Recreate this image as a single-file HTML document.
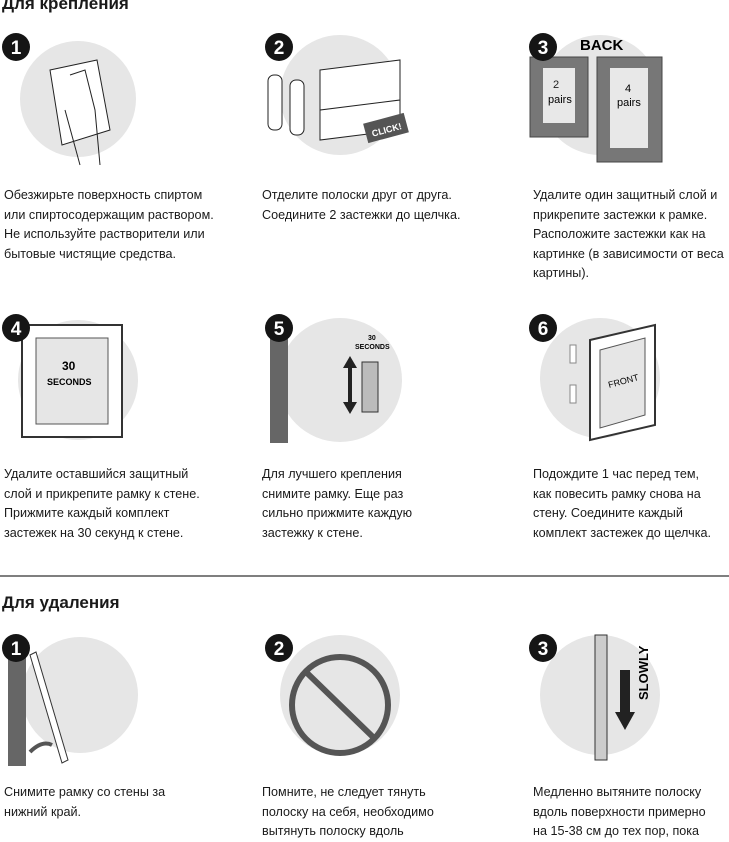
<!DOCTYPE html>
<html><head><meta charset="utf-8"><style>
body{margin:0;width:729px;height:840px;background:#fff;position:relative;overflow:hidden;font-family:"Liberation Sans","Noto Sans CJK SC",sans-serif;color:#1a1a1a}
.t{position:absolute;font-size:12.6px;line-height:19.6px;white-space:nowrap}
.h{position:absolute;font-size:17px;font-weight:bold;left:2px}
svg{position:absolute;left:0;top:0}
</style></head><body>
<svg width="729" height="840" viewBox="0 0 729 840">
<g fill="#e6e6e6">
<circle cx="78" cy="99" r="58"/><circle cx="340" cy="95" r="60"/><circle cx="600" cy="95" r="60"/>
<circle cx="78" cy="380" r="60"/><circle cx="340" cy="380" r="62"/><circle cx="600" cy="378" r="60"/>
<circle cx="80" cy="695" r="58"/><circle cx="340" cy="695" r="60"/><circle cx="600" cy="695" r="60"/>
</g>
<!-- row1 illustrations -->
<path d="M50 70 L97 60 L110 130 L62 145 Z" fill="#fff" stroke="#222"/>
<path d="M70 75 L85 70 L95 110 L100 165 M65 110 L80 165" fill="none" stroke="#222"/>
<g stroke="#222" fill="#fff"><rect x="268" y="75" width="14" height="55" rx="6"/><rect x="290" y="80" width="14" height="55" rx="6"/>
<path d="M320 70 L400 60 L400 100 L320 110 Z M320 110 L400 100 L400 130 L320 140 Z"/></g>
<rect x="365" y="118" width="42" height="20" fill="#555" transform="rotate(-15 386 128)"/>
<text x="371" y="133" font-size="9" font-weight="bold" fill="#fff" transform="rotate(-15 386 128)">CLICK!</text>
<g fill="#777" stroke="#444"><rect x="530" y="57" width="58" height="80"/><rect x="597" y="57" width="65" height="105"/></g>
<g fill="#e8e8e8"><rect x="543" y="68" width="32" height="55"/><rect x="610" y="68" width="38" height="80"/></g>
<text x="580" y="50" font-size="15" font-weight="bold">BACK</text>
<text x="553" y="88" font-size="11" fill="#222">2</text><text x="548" y="103" font-size="11">pairs</text>
<text x="625" y="92" font-size="11">4</text><text x="617" y="106" font-size="11">pairs</text>
<!-- row2 -->
<rect x="22" y="325" width="100" height="112" fill="#fff" stroke="#333" stroke-width="2"/>
<rect x="36" y="338" width="72" height="86" fill="#e6e6e6" stroke="#555"/>
<text x="62" y="370" font-size="12" font-weight="bold">30</text><text x="47" y="385" font-size="9" font-weight="bold">SECONDS</text>
<rect x="270" y="318" width="18" height="125" fill="#666"/>
<path d="M350 360 L350 410" stroke="#222" stroke-width="4"/><path d="M343 368 L350 356 L357 368 Z M343 402 L350 414 L357 402Z" fill="#222"/>
<rect x="362" y="362" width="16" height="50" fill="#bbb" stroke="#333"/>
<text x="368" y="340" font-size="7" font-weight="bold">30</text><text x="355" y="349" font-size="7" font-weight="bold">SECONDS</text>
<path d="M590 340 L655 325 L655 425 L590 440 Z" fill="#fff" stroke="#333" stroke-width="2"/>
<path d="M600 350 L645 338 L645 415 L600 428 Z" fill="#e6e6e6" stroke="#555"/>
<text x="608" y="385" font-size="9" transform="rotate(-15 620 382)">FRONT</text>
<rect x="570" y="345" width="6" height="18" fill="#fff" stroke="#888"/><rect x="570" y="385" width="6" height="18" fill="#fff" stroke="#888"/>
<!-- row3 -->
<rect x="8" y="648" width="18" height="118" fill="#666"/>
<path d="M30 655 L36 652 L68 760 L62 763 Z" fill="#fff" stroke="#333"/>
<path d="M30 752 Q42 740 52 745" stroke="#555" stroke-width="4" fill="none"/>
<circle cx="340" cy="705" r="48" fill="none" stroke="#555" stroke-width="6"/>
<path d="M306 672 L374 738" stroke="#555" stroke-width="6"/>
<rect x="595" y="635" width="12" height="125" fill="#ccc" stroke="#333"/>
<rect x="620" y="670" width="10" height="45" fill="#222"/><path d="M615 712 L635 712 L625 730Z" fill="#222"/>
<text x="648" y="700" font-size="13" font-weight="bold" transform="rotate(-90 648 700)" x-dummy="">SLOWLY</text>
<!-- badges -->
<g fill="#151515"><circle cx="16" cy="47" r="14"/><circle cx="279" cy="47" r="14"/><circle cx="543" cy="47" r="14"/>
<circle cx="16" cy="328" r="14"/><circle cx="279" cy="328" r="14"/><circle cx="543" cy="328" r="14"/>
<circle cx="16" cy="648" r="14"/><circle cx="279" cy="648" r="14"/><circle cx="543" cy="648" r="14"/></g>
<g fill="#fff" font-size="19" font-weight="bold" text-anchor="middle">
<text x="16" y="54">1</text><text x="279" y="54">2</text><text x="543" y="54">3</text>
<text x="16" y="335">4</text><text x="279" y="335">5</text><text x="543" y="335">6</text>
<text x="16" y="655">1</text><text x="279" y="655">2</text><text x="543" y="655">3</text></g>
<line x1="0" y1="576" x2="729" y2="576" stroke="#555" stroke-width="1.5"/>
</svg>
<div class="h" style="top:-6px">Для крепления</div>
<div class="h" style="top:593px">Для удаления</div>
<div class="t" style="left:4px;top:186px">Обезжирьте поверхность спиртом<br>или спиртосодержащим раствором.<br>Не используйте растворители или<br>бытовые чистящие средства.</div>
<div class="t" style="left:262px;top:186px">Отделите полоски друг от друга.<br>Соедините 2 застежки до щелчка.</div>
<div class="t" style="left:533px;top:186px">Удалите один защитный слой и<br>прикрепите застежки к рамке.<br>Расположите застежки как на<br>картинке (в зависимости от веса<br>картины).</div>
<div class="t" style="left:4px;top:465px">Удалите оставшийся защитный<br>слой и прикрепите рамку к стене.<br>Прижмите каждый комплект<br>застежек на 30 секунд к стене.</div>
<div class="t" style="left:262px;top:465px">Для лучшего крепления<br>снимите рамку. Еще раз<br>сильно прижмите каждую<br>застежку к стене.</div>
<div class="t" style="left:533px;top:465px">Подождите 1 час перед тем,<br>как повесить рамку снова на<br>стену. Соедините каждый<br>комплект застежек до щелчка.</div>
<div class="t" style="left:4px;top:783px">Снимите рамку со стены за<br>нижний край.</div>
<div class="t" style="left:262px;top:783px">Помните, не следует тянуть<br>полоску на себя, необходимо<br>вытянуть полоску вдоль</div>
<div class="t" style="left:533px;top:783px">Медленно вытяните полоску<br>вдоль поверхности примерно<br>на 15-38 см до тех пор, пока</div>
</body></html>
